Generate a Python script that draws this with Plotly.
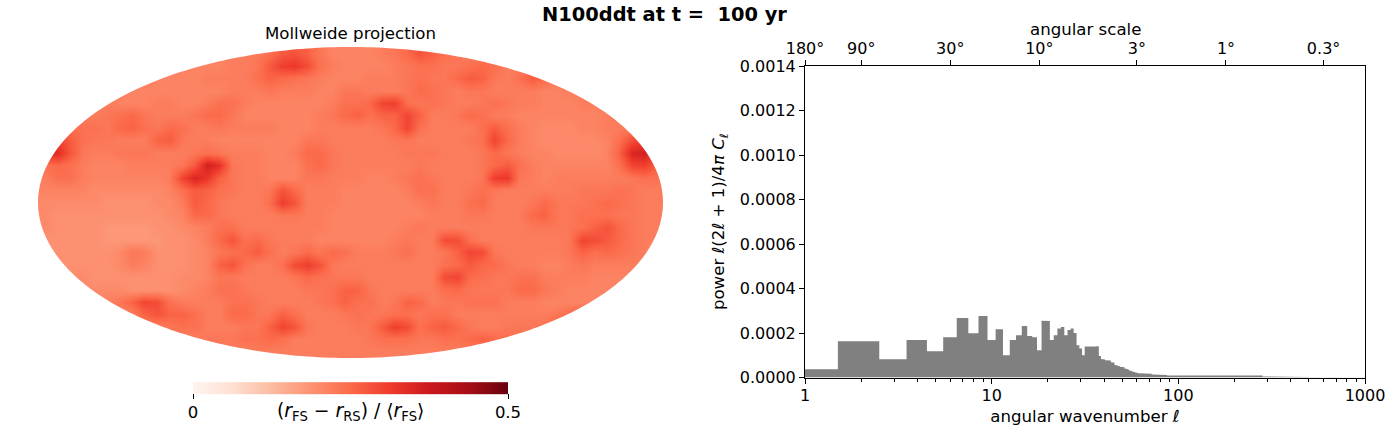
import numpy as np
import plotly.graph_objects as go
from plotly.colors import sequential

FONT = "DejaVu Sans"

# map on a 50 x 25 grid, top row first, in units of 0.01
MAP_ROWS = [
    [21,21,21,21,21, 21,21,21,21,21, 21,21,21,21,21, 22,22,23,24,27, 28,26,23,21,21, 21,21,22,23,25, 28,26,24,23,22, 22,22,22,22,22, 22,22,22,22,22, 22,22,22,22,22],
    [21,21,21,21,21, 21,21,21,21,21, 21,21,21,21,21, 22,22,23,27,31, 32,29,24,22,21, 21,21,21,22,23, 24,24,23,23,24, 25,24,22,22,23, 23,22,22,22,22, 22,22,22,22,22],
    [22,22,22,22,22, 22,22,22,22,21, 21,21,21,22,22, 22,22,24,26,25, 24,23,22,21,21, 21,22,22,22,23, 24,23,23,25,27, 26,23,22,24,27, 25,22,21,22,22, 22,22,22,22,22],
    [22,22,22,22,22, 22,22,21,21,21, 21,21,21,21,21, 22,22,22,23,22, 22,22,21,21,23, 23,22,22,22,23, 25,24,23,22,23, 23,22,22,22,22, 21,21,22,22,22, 22,22,22,22,22],
    [22,22,22,22,22, 22,21,21,21,22, 22,21,21,22,24, 24,22,21,21,21, 21,21,21,22,24, 24,25,30,31,24, 23,24,23,22,22, 23,24,23,22,22, 21,21,21,22,22, 22,22,23,23,23],
    [23,23,23,22,22, 23,24,25,23,22, 22,22,23,25,25, 23,21,21,21,21, 21,21,22,23,25, 26,24,26,26,30, 26,22,22,23,25, 24,22,22,21,21, 21,21,21,21,21, 22,23,24,24,24],
    [25,25,24,24,24, 23,25,26,24,23, 25,24,22,22,23, 22,22,22,22,21, 21,21,22,22,22, 22,22,23,25,30, 24,22,22,22,22, 24,27,24,22,21, 20,20,20,21,21, 22,22,23,25,27],
    [31,31,27,24,23, 23,22,22,22,26, 27,23,22,22,21, 21,21,21,21,21, 21,23,23,22,22, 22,22,22,23,23, 22,22,22,22,23, 24,30,25,22,21, 20,20,20,20,20, 21,24,29,31,32],
    [34,34,28,23,22, 22,23,23,23,22, 22,22,23,24,23, 22,22,22,21,21, 22,25,25,23,22, 22,22,22,22,23, 23,23,22,22,22, 23,25,23,22,21, 21,20,20,20,20, 21,26,35,36,30],
    [24,25,24,22,21, 21,21,22,22,22, 22,23,27,36,33, 23,22,22,21,21, 21,24,25,23,22, 22,22,22,22,22, 23,22,22,22,22, 23,25,27,24,22, 21,21,21,21,21, 21,24,30,31,26],
    [22,24,24,22,21, 21,21,21,21,21, 22,30,35,32,26, 23,22,22,21,21, 21,23,23,22,22, 22,21,21,22,23, 24,23,22,22,22, 23,31,32,23,22, 21,22,22,22,22, 22,22,23,24,24],
    [21,21,21,21,20, 20,20,20,20,20, 21,24,27,26,24, 23,22,22,23,28, 25,22,22,22,21, 21,21,21,21,22, 24,24,22,22,23, 24,23,22,22,22, 22,22,22,23,23, 23,24,23,22,22],
    [20,20,20,20,20, 19,19,19,19,20, 20,22,27,25,23, 22,22,22,24,31, 28,22,22,22,21, 21,21,21,21,21, 22,23,22,22,24, 25,22,22,22,23, 25,23,23,23,24, 25,24,23,22,22],
    [20,19,19,19,19, 19,19,19,19,19, 20,21,25,25,23, 22,22,22,22,23, 23,22,22,21,21, 21,21,21,21,21, 21,22,22,22,23, 23,22,22,22,25, 26,23,23,24,24, 24,23,23,22,22],
    [20,19,19,19,19, 18,18,18,18,19, 19,20,21,22,24, 24,22,22,22,22, 22,22,22,21,21, 21,21,21,21,22, 23,22,22,22,22, 22,22,22,22,23, 23,23,23,24,26, 28,25,23,22,22],
    [19,19,19,19,19, 18,18,18,18,18, 19,19,20,22,25, 28,24,25,23,22, 22,22,21,21,21, 21,21,21,22,23, 22,22,29,29,24, 22,22,22,22,22, 22,22,23,30,29, 27,25,23,22,22],
    [19,19,19,19,19, 19,20,23,22,19, 19,19,20,21,23, 24,25,27,24,22, 23,25,23,25,24, 22,22,22,23,24, 22,22,23,26,30, 29,23,22,22,22, 22,22,23,26,24, 25,24,23,22,21],
    [19,19,19,19,19, 19,20,22,21,19, 19,19,20,21,26, 28,24,22,22,24, 29,31,28,23,22, 22,22,22,22,22, 22,22,24,25,27, 25,25,23,22,22, 21,21,22,23,22, 22,22,22,22,21],
    [20,20,20,20,19, 19,19,19,19,19, 19,20,20,21,23, 23,22,22,22,22, 23,25,24,23,23, 23,22,22,22,22, 22,22,29,30,25, 24,23,23,24,24, 22,22,22,22,21, 21,21,21,21,21],
    [20,20,20,20,20, 20,20,19,19,19, 19,20,21,22,24, 24,23,22,22,22, 22,23,23,24,26, 26,23,22,22,22, 22,22,24,25,23, 23,23,23,25,25, 23,22,21,21,21, 21,21,21,21,21],
    [21,21,21,21,21, 22,23,26,30,29, 24,22,22,22,22, 24,24,23,22,22, 22,22,23,24,26, 24,24,22,23,26, 25,22,23,23,24, 24,24,22,22,22, 21,21,21,21,21, 21,21,21,21,21],
    [22,22,22,22,22, 22,22,22,26,28, 26,26,24,22,22, 25,25,23,23,26, 24,22,22,22,23, 24,23,23,24,24, 23,24,24,22,22, 22,22,22,22,22, 22,23,25,27,25, 23,22,22,22,22],
    [22,22,22,22,22, 22,22,22,22,22, 23,24,24,22,22, 22,23,23,26,30, 28,23,22,22,22, 23,23,27,31,29, 24,26,27,25,23, 22,22,23,23,23, 24,27,26,22,22, 22,22,22,22,22],
    [22,22,22,22,22, 22,22,22,22,22, 22,22,22,23,23, 23,24,24,25,24, 22,22,22,22,22, 22,23,24,24,24, 23,23,24,24,25, 26,25,24,24,24, 24,23,22,22,22, 22,22,22,22,22],
    [22,22,22,22,22, 22,22,22,22,22, 22,22,22,22,22, 22,22,22,22,22, 22,22,22,22,22, 22,22,22,22,22, 22,22,22,22,22, 22,22,22,22,22, 22,22,22,22,22, 22,22,22,22,22],
]

# power per wavenumber, units of 1e-4
ELL = list(range(1, 61))
POWER = [0.375, 1.63, 0.82, 1.68, 1.18, 1.81, 2.67, 1.99, 2.76, 1.68,
         2.17, 1.0, 1.68, 1.90, 2.31, 1.86, 1.81, 1.23, 2.55, 2.54,
         1.68, 1.90, 2.2, 2.27, 1.9, 2.14, 2.2, 2.0, 1.45, 1.3,
         1.0, 1.39, 1.38, 1.37, 1.37, 1.39, 1.41, 0.97, 0.83, 0.81,
         0.78, 0.78, 0.76, 0.68, 0.66, 0.56, 0.54, 0.52, 0.48, 0.47,
         0.46, 0.40, 0.38, 0.36, 0.31, 0.29, 0.27, 0.25, 0.23, 0.21]
TAIL_EDGES = [60.5, 66, 72, 80, 87, 283, 370, 500, 1000]
TAIL_POWER = [0.19, 0.17, 0.14, 0.11, 0.09, 0.045, 0.02, 0.01]

SCALE_ELL = [1, 2, 6, 18, 60, 180, 600]
SCALE_TEXT = ["180°", "90°", "30°", "10°", "3°", "1°", "0.3°"]
MINOR_ELL = [m * d for d in (1, 10, 100) for m in range(2, 10)]

# steps: one flat piece per wavenumber, then the wider tail pieces
edges_x, edges_y = [], []
for l, p in zip(ELL, POWER):
    edges_x += [l - 0.5, l + 0.5]
    edges_y += [p * 1e-4, p * 1e-4]
for i, p in enumerate(TAIL_POWER):
    edges_x += [TAIL_EDGES[i], TAIL_EDGES[i + 1]]
    edges_y += [p * 1e-4, p * 1e-4]

z = np.array(MAP_ROWS) / 100
ny, nx = z.shape
map_x = -2 + 4 * (np.arange(nx) + 0.5) / nx
map_y = 1 - 2 * (np.arange(ny) + 0.5) / ny

fig = go.Figure()
fig.add_trace(go.Heatmap(
    z=z, x=map_x, y=map_y, zmin=0, zmax=0.5, zsmooth="best",
    colorscale=sequential.Reds, xaxis="x", yaxis="y", hoverinfo="skip",
    colorbar=dict(
        orientation="h", x=350.5 / 1400, xanchor="center", y=1 - 422.5 / 444, yanchor="bottom",
        len=315 / 1400, lenmode="fraction", thickness=12, thicknessmode="pixels",
        xpad=0, ypad=0, outlinewidth=0, tickvals=[0, 0.5], ticktext=["0", "0.5"],
        ticks="outside", ticklen=5, tickwidth=1.1, tickcolor="black",
        tickfont=dict(family=FONT, size=16.5, color="black"),
    ),
))
fig.add_trace(go.Scatter(
    x=edges_x, y=edges_y, mode="lines", line=dict(width=0, color="gray"),
    fill="tozeroy", fillcolor="gray", xaxis="x2", yaxis="y2", hoverinfo="skip", showlegend=False,
))
# the top axis needs something on it to be drawn
fig.add_trace(go.Scatter(
    x=SCALE_ELL, y=[0] * len(SCALE_ELL), mode="lines", line=dict(width=0),
    xaxis="x3", yaxis="y2", hoverinfo="skip", showlegend=False,
))

# white outside the ellipse
t = np.linspace(0, 2 * np.pi, 361)
ell_path = "M -3 -2 L 3 -2 L 3 2 L -3 2 Z M " + " L ".join(f"{2 * np.cos(a):.4f} {np.sin(a):.4f}" for a in t) + " Z"
fig.add_shape(type="path", path=ell_path, xref="x", yref="y", fillcolor="white", line=dict(width=0), layer="above")

tick_style = dict(ticks="outside", ticklen=5, tickwidth=1.1, tickcolor="black", showgrid=False, zeroline=False,
                  showline=True, linecolor="black", linewidth=1.1,
                  tickfont=dict(family=FONT, size=16, color="black"))
title_font = dict(family=FONT, size=16.6, color="black")

# the map axes run a little past the ellipse so the mask hides the picture's edge
pad = 0.02

fig.update_layout(
    width=1400, height=444, margin=dict(l=0, r=0, t=0, b=0, autoexpand=False), paper_bgcolor="white", plot_bgcolor="white",
    showlegend=False,
    title=dict(text="<b>N100ddt at t =\u00a0\u00a0100 yr</b>", x=664.5 / 1400, xanchor="center", y=1 - 14 / 444,
               yanchor="middle", font=dict(family=FONT, size=19.4, color="black")),
    xaxis=dict(domain=[(38 - 156.25 * pad) / 1400, (663 + 156.25 * pad) / 1400], range=[-2 - pad, 2 + pad], visible=False, anchor="y"),
    yaxis=dict(domain=[1 - (358 + 155.5 * pad) / 444, 1 - (47 - 155.5 * pad) / 444], range=[-1 - pad, 1 + pad], visible=False, anchor="x"),
    xaxis2=dict(domain=[805 / 1400, 1365 / 1400], type="log", range=[0, 3], anchor="y2", mirror=True,
                tickmode="array", tickvals=[1, 10, 100, 1000], ticktext=["1", "10", "100", "1000"], ticklabelstandoff=-2,
                minor=dict(ticks="outside", ticklen=3, tickwidth=0.8, tickcolor="black", tickmode="array", tickvals=MINOR_ELL),
                title=dict(text="angular wavenumber <i>ℓ</i>", font=title_font, standoff=6), **tick_style),
    yaxis2=dict(domain=[1 - 377.5 / 444, 1 - 66 / 444], range=[0, 0.0014], anchor="x2", mirror=True,
                tickmode="array", tickvals=[i * 0.0002 for i in range(8)], tickformat=".4f",
                title=dict(text="power <i>ℓ</i>(2<i>ℓ</i> + 1)/4<i>π</i> <i>C</i><sub><i>ℓ</i></sub>", font=title_font, standoff=10),
                **tick_style),
    xaxis3=dict(domain=[805 / 1400, 1365 / 1400], type="log", range=[0, 3], anchor="y2", overlaying="x2", side="top",
                tickmode="array", tickvals=SCALE_ELL, ticktext=SCALE_TEXT, **tick_style),
    annotations=[
        dict(text="Mollweide projection", x=350 / 1400, y=1 - 33 / 444, xref="paper", yref="paper",
             showarrow=False, xanchor="center", yanchor="middle", font=dict(family=FONT, size=16.6, color="black")),
        dict(text="angular scale", x=1085 / 1400, y=1 - 29 / 444, xref="paper", yref="paper",
             showarrow=False, xanchor="center", yanchor="middle", font=title_font),
        dict(text="(<i>r</i><sub>FS</sub> − <i>r</i><sub>RS</sub>) / ⟨<i>r</i><sub>FS</sub>⟩", x=350 / 1400, y=1 - 412 / 444,
             xref="paper", yref="paper", showarrow=False, xanchor="center", yanchor="middle",
             font=dict(family=FONT, size=18.8, color="black")),
    ],
)

fig.write_html("out.html", config=dict(displayModeBar=False), post_script="document.body.style.margin='0';")
